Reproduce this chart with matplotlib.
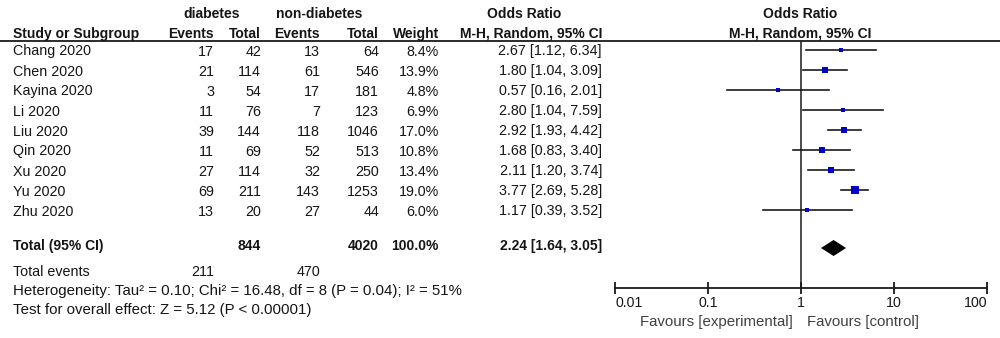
import matplotlib
matplotlib.use('Agg')
import matplotlib.pyplot as plt
import numpy as np
from matplotlib.ticker import FixedLocator, FixedFormatter, NullLocator

plt.rcParams['font.family'] = ['Liberation Sans', 'DejaVu Sans']

# ---- data ----
studies = ['Chang 2020', 'Chen 2020', 'Kayina 2020', 'Li 2020', 'Liu 2020',
           'Qin 2020', 'Xu 2020', 'Yu 2020', 'Zhu 2020']
dm_events = [17, 21, 3, 11, 39, 11, 27, 69, 13]
dm_total = [42, 114, 54, 76, 144, 69, 114, 211, 20]
non_events = [13, 61, 17, 7, 118, 52, 32, 143, 27]
non_total = [64, 546, 181, 123, 1046, 513, 250, 1253, 44]
weights = [8.4, 13.9, 4.8, 6.9, 17.0, 10.8, 13.4, 19.0, 6.0]
odds = [2.67, 1.80, 0.57, 2.80, 2.92, 1.68, 2.11, 3.77, 1.17]
ci_low = [1.12, 1.04, 0.16, 1.04, 1.93, 0.83, 1.20, 2.69, 0.39]
ci_high = [6.34, 3.09, 2.01, 7.59, 4.42, 3.40, 3.74, 5.28, 3.52]

total_or = 2.24
total_low = 1.64
total_high = 3.05
total_dm = 844
total_non = 4020
events_dm = 211
events_non = 470
heterogeneity = 'Heterogeneity: Tau\u00b2 = 0.10; Chi\u00b2 = 16.48, df = 8 (P = 0.04); I\u00b2 = 51%'
overall = 'Test for overall effect: Z = 5.12 (P < 0.00001)'

axis_ticks = [0.01, 0.1, 1, 10, 100]
axis_labels = ['0.01', '0.1', '1', '10', '100']

# ---- layout (pixels) ----
W, H = 1000, 338
FS = 10.3      # table text
FSB = 10.0     # bold headers
FSL = 10.8     # footer lines
TXT = '#151515'
LINE = '#1a1a1a'
row_y0, row_step = 50, 20
total_row = 9.9

fig = plt.figure(figsize=(W / 100, H / 100), dpi=100)
tab = fig.add_axes([0, 0, 1, 1])
tab.set_xlim(0, W)
tab.set_ylim(H, 0)
tab.axis('off')

def ypix(r):
    return row_y0 + row_step * r + 1.5

col_right = {'ev1': 214, 'tot1': 261, 'ev2': 320, 'tot2': 379, 'wt': 439, 'or': 602}

# headers
tab.text(212, 14, 'diabetes', ha='center', va='center', fontsize=FSB, fontweight='bold', color=TXT)
tab.text(319, 14, 'non-diabetes', ha='center', va='center', fontsize=FSB, fontweight='bold', color=TXT)
tab.text(524, 14, 'Odds Ratio', ha='center', va='center', fontsize=FSB, fontweight='bold', color=TXT)
tab.text(13, 34, 'Study or Subgroup', ha='left', va='center', fontsize=FSB, fontweight='bold', color=TXT)
for key, lab in [('ev1', 'Events'), ('tot1', 'Total'), ('ev2', 'Events'),
                 ('tot2', 'Total'), ('wt', 'Weight'), ('or', 'M-H, Random, 95% CI')]:
    tab.text(col_right[key], 34, lab, ha='right', va='center', fontsize=FSB, fontweight='bold', color=TXT)
tab.text(800, 14, 'Odds Ratio', ha='center', va='center', fontsize=FSB, fontweight='bold', color=TXT)
tab.text(800, 34, 'M-H, Random, 95% CI', ha='center', va='center', fontsize=FSB, fontweight='bold', color=TXT)
tab.plot([0, W], [41, 41], color=LINE, lw=1.3)

# study rows
for i, name in enumerate(studies):
    y = ypix(i)
    tab.text(13, y, name, ha='left', va='center', fontsize=FS, color=TXT)
    vals = [str(dm_events[i]), str(dm_total[i]), str(non_events[i]), str(non_total[i]),
            f'{weights[i]:.1f}%', f'{odds[i]:.2f} [{ci_low[i]:.2f}, {ci_high[i]:.2f}]']
    for key, v in zip(['ev1', 'tot1', 'ev2', 'tot2', 'wt', 'or'], vals):
        tab.text(col_right[key], y, v, ha='right', va='center', fontsize=FS, color=TXT)

# totals
yt = 246
tab.text(13, yt, 'Total (95% CI)', ha='left', va='center', fontsize=FSB, fontweight='bold', color=TXT)
tab.text(col_right['tot1'], yt, str(total_dm), ha='right', va='center', fontsize=FSB, fontweight='bold', color=TXT)
tab.text(col_right['tot2'], yt, str(total_non), ha='right', va='center', fontsize=FSB, fontweight='bold', color=TXT)
tab.text(col_right['wt'], yt, '100.0%', ha='right', va='center', fontsize=FSB, fontweight='bold', color=TXT)
tab.text(col_right['or'], yt, f'{total_or:.2f} [{total_low:.2f}, {total_high:.2f}]',
         ha='right', va='center', fontsize=FSB, fontweight='bold', color=TXT)
tab.text(13, 272, 'Total events', ha='left', va='center', fontsize=FS, color=TXT)
tab.text(col_right['ev1'], 272, str(events_dm), ha='right', va='center', fontsize=FS, color=TXT)
tab.text(col_right['ev2'], 272, str(events_non), ha='right', va='center', fontsize=FS, color=TXT)
tab.text(13, 291, heterogeneity, ha='left', va='center', fontsize=FSL, color=TXT)
tab.text(13, 310, overall, ha='left', va='center', fontsize=FSL, color=TXT)

tab.text(793, 322, 'Favours [experimental]', ha='right', va='center', fontsize=FSL, color='#404040')
tab.text(807, 322, 'Favours [control]', ha='left', va='center', fontsize=FSL, color='#404040')

# ---- forest panel ----
x0, x1 = 615, 987
top, bottom = 41, 288
fp = fig.add_axes([x0 / W, (H - bottom) / H, (x1 - x0) / W, (bottom - top) / H])
fp.patch.set_alpha(0)
fp.set_xscale('log')
fp.set_xlim(axis_ticks[0], axis_ticks[-1])
fp.set_ylim((bottom - row_y0) / row_step, (top - row_y0) / row_step)
for s in ['top', 'left', 'right']:
    fp.spines[s].set_visible(False)
fp.spines['bottom'].set_linewidth(1.3)
fp.spines['bottom'].set_color(LINE)
fp.xaxis.set_major_locator(FixedLocator(axis_ticks))
fp.xaxis.set_major_formatter(FixedFormatter(axis_labels))
fp.xaxis.set_minor_locator(NullLocator())
fp.tick_params(axis='x', direction='inout', length=8, width=1.3, color=LINE,
               labelsize=10.2, pad=2, labelcolor=TXT)
fp.set_yticks([])
fig.canvas.draw()
tl = fp.get_xticklabels()
tl[0].set_horizontalalignment('left')
tl[-1].set_horizontalalignment('right')

fp.axvline(1, color=LINE, lw=1.1)
rows = np.arange(len(studies))
for i in rows:
    fp.plot([ci_low[i], ci_high[i]], [i, i], color=LINE, lw=1.2)
    fp.plot(odds[i], i, marker='s', color='#0000c8', markersize=1.2 * np.sqrt(weights[i]),
            markeredgewidth=0, zorder=3)

dx = [total_low, total_or, total_high, total_or]
dy = [total_row, total_row - 0.4, total_row, total_row + 0.4]
fp.fill(dx, dy, color='black', lw=0)

fig.savefig('out.png', dpi=100)
